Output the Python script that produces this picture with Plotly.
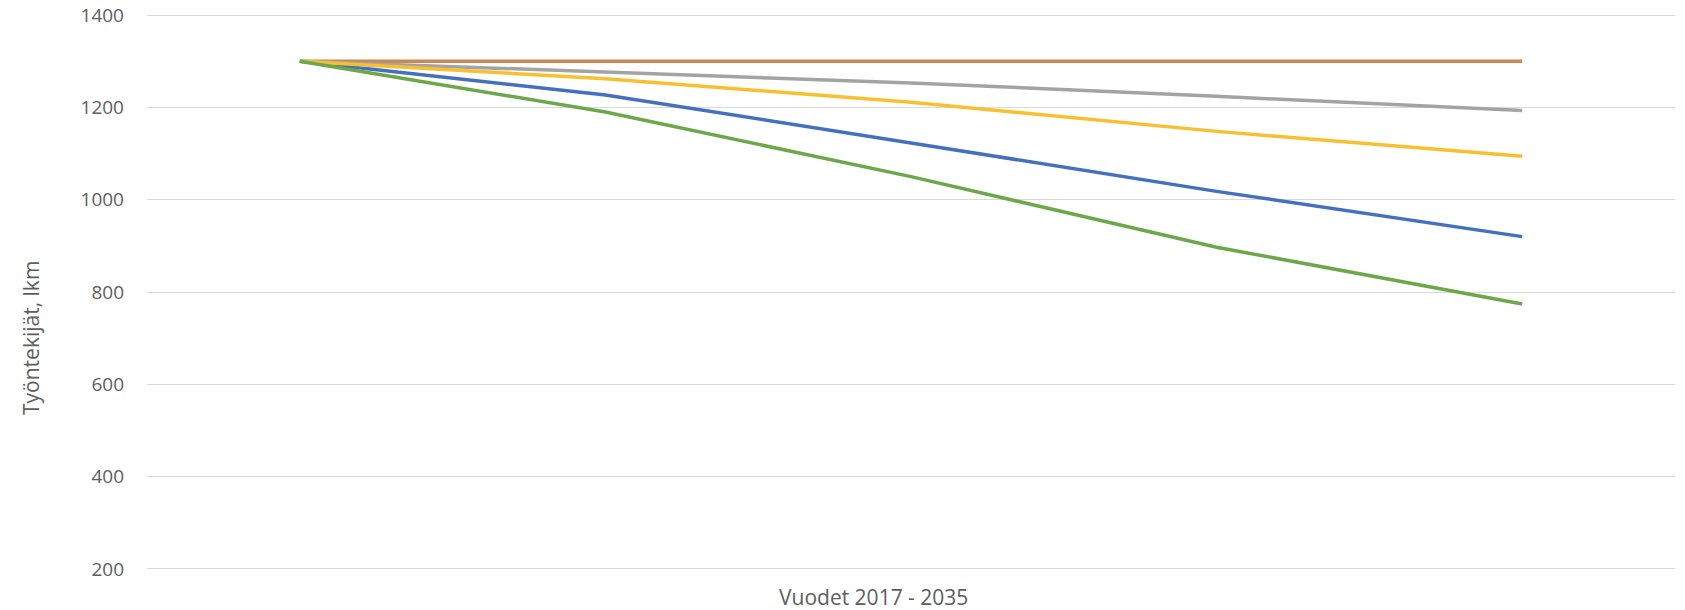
import plotly.graph_objects as go

# Category axis (labels hidden in the original chart)
categories = ["2017", "2020", "2025", "2030", "2035"]

# Series values (Työntekijät, lkm)
series_blue = [1300, 1227, 1123, 1018, 920]
series_orange = [1300, 1300, 1300, 1300, 1300]
series_gray = [1300, 1277, 1253, 1224, 1193]
series_yellow = [1300, 1262, 1211, 1148, 1094]
series_green = [1300, 1190, 1050, 897, 774]

y_ticks = [200, 400, 600, 800, 1000, 1200, 1400]

colors = {
    "blue": "#4470C0",
    "orange": "#CD8852",
    "gray": "#A3A3A3",
    "yellow": "#F8C030",
    "green": "#6CA84A",
}

fig = go.Figure()
for name, vals in [("blue", series_blue), ("orange", series_orange),
                   ("gray", series_gray), ("yellow", series_yellow),
                   ("green", series_green)]:
    fig.add_trace(go.Scatter(
        x=categories, y=vals, mode="lines", name=name,
        line=dict(color=colors[name], width=3.5),
        showlegend=False, hoverinfo="skip",
    ))

font_family = "Open Sans, DejaVu Sans, sans-serif"

# plot area: 1400 gridline at y≈15, 200 gridline at y≈569 (pixels)
fig.update_layout(
    width=1685, height=610,
    margin=dict(l=147, r=10, t=10, b=36, autoexpand=False),
    paper_bgcolor="white", plot_bgcolor="white",
    font=dict(family=font_family, color="#5E5E5E", size=16),
    xaxis=dict(
        type="category", range=[-0.5, 4.5],
        showticklabels=False, showgrid=False, zeroline=False,
        showline=False, ticks="", automargin=False,
    ),
    yaxis=dict(
        range=[189, 1411], tickvals=y_ticks,
        showgrid=True, gridcolor="#D9D9D9", gridwidth=1.3,
        zeroline=False, showline=False, ticks="",
        tickfont=dict(size=19, color="#5E5E5E"),
        ticklabelstandoff=22, automargin=False,
    ),
    annotations=[
        dict(text="Työntekijät, lkm", xref="paper", yref="paper",
             x=-147 / 1528 + 31 / 1528, y=(574 - 338) / 564,
             xanchor="center", yanchor="middle", textangle=-90,
             showarrow=False, font=dict(size=21, color="#5E5E5E")),
        dict(text="Vuodet 2017 - 2035", xref="paper", yref="paper",
             x=(873 - 147) / 1528, y=-(597 - 574) / 564,
             xanchor="center", yanchor="middle",
             showarrow=False, font=dict(size=21, color="#5E5E5E")),
    ],
)

fig.write_html("out.html")
